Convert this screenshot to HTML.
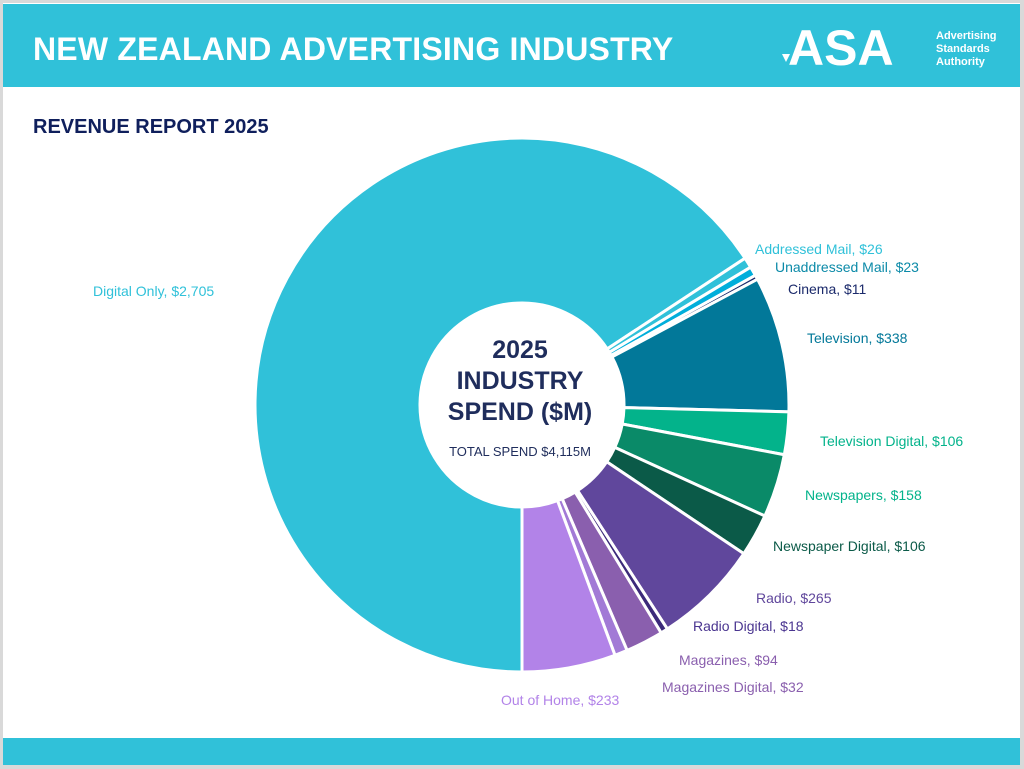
<!DOCTYPE html>
<html><head><meta charset="utf-8"><style>
body{margin:0;width:1024px;height:769px;background:#d9d9d9;font-family:"Liberation Sans",sans-serif;overflow:hidden}
#page{position:absolute;left:3px;top:3px;width:1017px;height:762px;background:#fff}
#hdr{position:absolute;left:0;top:1px;width:1017px;height:83px;background:#30c1d9}
#hdr h1{position:absolute;left:30px;top:27px;margin:0;color:#fff;font-size:32px;font-weight:bold;letter-spacing:0.2px}
#ftr{position:absolute;left:0;top:735px;width:1017px;height:27px;background:#30c1d9}
#sub{position:absolute;left:30px;top:113px;margin:0;color:#0f1f5c;font-size:20px;font-weight:bold}
svg{position:absolute;left:0;top:0}
</style></head><body>
<div id="page">
<div id="hdr">
<h1>NEW ZEALAND ADVERTISING INDUSTRY</h1>
<svg width="1017" height="83">
<polygon points="779,50 787,50 783,58" fill="#fff"/>
<text x="785" y="61" fill="#fff" font-size="50" font-weight="bold" font-family="Liberation Sans">ASA</text>
<text x="933" y="35" fill="#fff" font-size="11" font-weight="bold">Advertising</text>
<text x="933" y="48" fill="#fff" font-size="11" font-weight="bold">Standards</text>
<text x="933" y="61" fill="#fff" font-size="11" font-weight="bold">Authority</text>
</svg>
</div>
<h2 id="sub">REVENUE REPORT 2025</h2>
<div id="ftr"></div>
</div>
<svg id="chart" width="1024" height="769"></svg>
<script>
const categories=["Digital Only","Addressed Mail","Unaddressed Mail","Cinema","Television","Television Digital","Newspapers","Newspaper Digital","Radio","Radio Digital","Magazines","Magazines Digital","Out of Home"];
const values=[2705,26,23,11,338,106,158,106,265,18,94,32,233];
const colors=["#30c1d9","#30c1d9","#00aedb","#1b2a6b","#027899","#03b38b","#0a8a68","#0b5a48","#60479c","#3c2a7a","#8a5fae","#a27ad6","#b283e8"];
const labelColors=["#30c1d9","#30c1d9","#0b8aa8","#1b2a6b","#027899","#03b38b","#03b38b","#0b5a48","#60479c","#4a3590","#8a5fae","#8a5fae","#b283e8"];
const labelPos=[[93,296],[755,254],[775,272],[788,294],[807,343],[820,446],[805,500],[773,551],[756,603],[693,631],[679,665],[662,692],[501,705]];
const svg=document.getElementById('chart');const NS='http://www.w3.org/2000/svg';
const cx=522,cy=405,R=267,r0=102;
const total=values.reduce((a,b)=>a+b,0);
function pt(a,rad){return [cx+rad*Math.sin(a),cy-rad*Math.cos(a)];}
let a=Math.PI;
values.forEach((v,i)=>{
 const a1=a+v/total*2*Math.PI;
 const p1=pt(a,R),p2=pt(a1,R),p3=pt(a1,r0),p4=pt(a,r0);
 const lg=(a1-a)>Math.PI?1:0;
 const p=document.createElementNS(NS,'path');
 p.setAttribute('d',`M${p1}A${R},${R} 0 ${lg} 1 ${p2}L${p3}A${r0},${r0} 0 ${lg} 0 ${p4}Z`);
 p.setAttribute('fill',colors[i]);p.setAttribute('stroke','#fff');p.setAttribute('stroke-width','3');
 
 
 svg.appendChild(p);
 const t=document.createElementNS(NS,'text');
 t.setAttribute('x',labelPos[i][0]);t.setAttribute('y',labelPos[i][1]);
 t.setAttribute('fill',labelColors[i]);t.setAttribute('font-size','14');
 t.textContent=categories[i]+', $'+values[i].toLocaleString('en-US');
 
 
 svg.appendChild(t);
 a=a1;
});
const c=document.createElementNS(NS,'circle');c.setAttribute('cx',cx);c.setAttribute('cy',cy);c.setAttribute('r',r0);c.setAttribute('fill','#fff');


svg.appendChild(c);
[["2025",358,25,"bold"],["INDUSTRY",389,25,"bold"],["SPEND ($M)",420,25,"bold"],["TOTAL SPEND $"+total.toLocaleString('en-US')+"M",456,13,"normal"]].forEach((d,i)=>{
 const t=document.createElementNS(NS,'text');t.setAttribute('x',cx-2);t.setAttribute('y',d[1]);t.setAttribute('text-anchor','middle');
 t.setAttribute('fill','#1f2d5c');t.setAttribute('font-size',d[2]);t.setAttribute('font-weight',d[3]);t.textContent=d[0];
 
 
 svg.appendChild(t);
});
</script>
</body></html>
